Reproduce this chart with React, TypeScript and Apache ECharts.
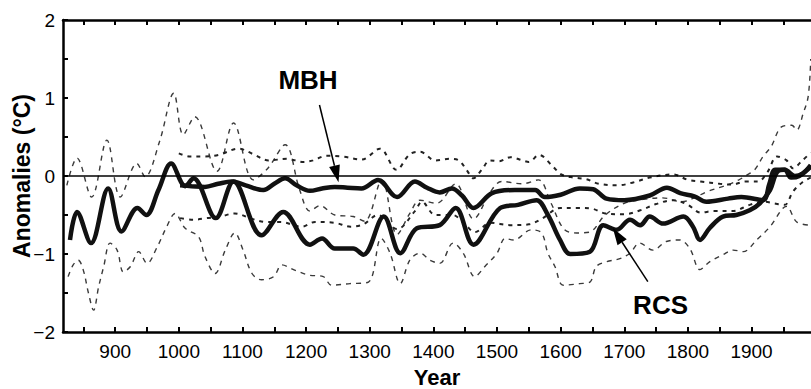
import React, { useEffect, useRef } from 'react';
import * as echarts from 'echarts';

// ---- data (year, anomaly °C) ----
const RCS: [number, number][] = [
  [829, -0.82], [840, -0.46], [862, -0.86], [889, -0.16], [910, -0.71], [935, -0.41], [949, -0.5],
  [968, -0.18], [988, 0.16], [1010, -0.13], [1023, -0.03], [1058, -0.54], [1086, -0.07], [1130, -0.76],
  [1164, -0.46], [1206, -0.88], [1225, -0.8], [1245, -0.93], [1274, -0.93], [1290, -1.01], [1322, -0.52],
  [1348, -0.99], [1374, -0.67], [1410, -0.63], [1435, -0.41], [1463, -0.88], [1505, -0.41], [1533, -0.37],
  [1562, -0.31], [1580, -0.5], [1599, -0.82], [1615, -1.0], [1646, -0.97], [1667, -0.63], [1688, -0.69],
  [1709, -0.56], [1725, -0.63], [1740, -0.52], [1761, -0.61], [1793, -0.52], [1808, -0.65], [1819, -0.82],
  [1834, -0.67], [1855, -0.52], [1876, -0.5], [1897, -0.44], [1913, -0.35], [1929, -0.18], [1940, 0.05],
  [1952, 0.08], [1968, 0.0], [1980, 0.03], [1993, 0.14],
];

const MBH: [number, number][] = [
  [1002, -0.12], [1020, -0.13], [1041, -0.14], [1062, -0.1], [1083, -0.07], [1105, -0.12], [1133, -0.18],
  [1150, -0.1], [1167, -0.03], [1185, -0.12], [1206, -0.19], [1225, -0.16], [1245, -0.14], [1265, -0.15],
  [1287, -0.16], [1313, -0.05], [1343, -0.27], [1371, -0.07], [1390, -0.15], [1410, -0.21], [1429, -0.16],
  [1445, -0.25], [1463, -0.41], [1492, -0.22], [1528, -0.18], [1560, -0.18], [1575, -0.27], [1600, -0.24],
  [1630, -0.16], [1651, -0.17], [1672, -0.29], [1700, -0.31], [1740, -0.25], [1767, -0.15], [1788, -0.22],
  [1810, -0.26], [1829, -0.33], [1863, -0.29], [1884, -0.27], [1918, -0.31], [1928, -0.1], [1937, 0.08],
  [1952, 0.08], [1962, -0.02], [1975, 0.0], [1993, 0.12],
];

const RCS_UPPER: [number, number][] = [
  [824, -0.12], [840, 0.23], [863, -0.27], [887, 0.46], [908, -0.27], [934, 0.16], [947, -0.01],
  [970, 0.45], [992, 1.06], [1007, 0.53], [1025, 0.76], [1060, 0.06], [1086, 0.68], [1117, -0.05],
  [1140, 0.1], [1167, 0.4], [1190, -0.18], [1206, -0.45], [1222, -0.38], [1245, -0.5], [1274, -0.52],
  [1292, -0.58], [1319, -0.05], [1343, -0.75], [1363, -0.48], [1379, -0.31], [1405, -0.35], [1435, -0.1],
  [1463, -0.55], [1490, -0.2], [1507, -0.07], [1540, -0.1], [1565, -0.05], [1585, -0.35], [1605, -0.68],
  [1625, -0.73], [1645, -0.72], [1670, -0.5], [1700, -0.35], [1730, -0.3], [1760, -0.28], [1790, -0.33],
  [1810, -0.28], [1830, -0.2], [1860, -0.12], [1880, -0.05], [1892, 0.01], [1905, 0.08], [1918, 0.25],
  [1931, 0.38], [1947, 0.63], [1963, 0.65], [1971, 0.59], [1981, 0.8], [1989, 1.02], [1993, 1.5],
];

const RCS_LOWER: [number, number][] = [
  [826, -1.29], [834, -1.14], [842, -1.08], [850, -1.21], [858, -1.5], [866, -1.72], [874, -1.42],
  [882, -1.16], [892, -0.86], [903, -0.95], [913, -1.23], [924, -1.16], [937, -0.97], [950, -1.12],
  [966, -0.91], [981, -0.65], [994, -0.48], [1010, -0.67], [1031, -0.78], [1041, -1.03], [1057, -1.25],
  [1073, -0.95], [1088, -0.73], [1101, -0.95], [1115, -1.25], [1130, -1.33], [1149, -1.29], [1162, -1.14],
  [1183, -1.21], [1204, -1.27], [1227, -1.29], [1240, -1.4], [1269, -1.38], [1298, -1.36], [1318, -0.8],
  [1332, -0.99], [1348, -1.38], [1363, -1.08], [1379, -0.99], [1395, -1.08], [1410, -1.12], [1431, -0.86],
  [1447, -0.99], [1465, -1.29], [1481, -1.16], [1500, -0.99], [1513, -0.8], [1526, -0.82], [1554, -0.69],
  [1570, -0.73], [1580, -0.99], [1591, -1.16], [1604, -1.4], [1630, -1.38], [1646, -1.36], [1656, -1.16],
  [1672, -1.1], [1693, -1.06], [1709, -0.99], [1724, -0.86], [1745, -0.95], [1766, -0.84], [1787, -0.82],
  [1803, -0.93], [1819, -1.2], [1834, -1.1], [1855, -1.01], [1871, -0.95], [1887, -0.97], [1908, -0.82],
  [1929, -0.65], [1955, -0.39], [1971, -0.59], [1993, -0.63],
];

const MBH_UPPER: [number, number][] = [
  [1000, 0.29], [1018, 0.25], [1040, 0.25], [1062, 0.27], [1094, 0.35], [1117, 0.28], [1141, 0.2],
  [1170, 0.22], [1196, 0.18], [1211, 0.2], [1232, 0.26], [1258, 0.25], [1287, 0.21], [1316, 0.35],
  [1342, 0.08], [1363, 0.28], [1379, 0.31], [1403, 0.2], [1426, 0.22], [1440, 0.2], [1452, 0.08],
  [1463, -0.03], [1476, 0.08], [1489, 0.2], [1503, 0.19], [1521, 0.24], [1540, 0.2], [1550, 0.18],
  [1566, 0.27], [1588, 0.12], [1601, 0.02], [1620, -0.02], [1640, -0.04], [1660, -0.1], [1690, -0.12],
  [1715, -0.08], [1740, -0.02], [1777, 0.02], [1800, -0.05], [1820, -0.07], [1850, -0.1], [1870, -0.11],
  [1890, -0.07], [1910, -0.07], [1925, 0.05], [1940, 0.25], [1955, 0.2], [1965, 0.1], [1980, 0.2],
  [1993, 0.3],
];

const MBH_LOWER: [number, number][] = [
  [1002, -0.54], [1023, -0.56], [1044, -0.54], [1065, -0.52], [1088, -0.48], [1115, -0.55], [1138, -0.59],
  [1160, -0.59], [1193, -0.65], [1214, -0.59], [1245, -0.6], [1270, -0.65], [1290, -0.62], [1313, -0.5],
  [1343, -0.68], [1371, -0.45], [1382, -0.33], [1403, -0.5], [1430, -0.5], [1450, -0.62], [1465, -0.72],
  [1490, -0.6], [1520, -0.63], [1550, -0.62], [1570, -0.55], [1600, -0.41], [1630, -0.41], [1650, -0.42],
  [1670, -0.48], [1700, -0.49], [1725, -0.44], [1750, -0.36], [1777, -0.31], [1800, -0.37], [1820, -0.47],
  [1840, -0.45], [1870, -0.45], [1897, -0.37], [1920, -0.33], [1935, -0.35], [1952, -0.37], [1965, -0.2],
  [1980, -0.08], [1993, -0.02],
];

const X_TICKS = [850, 900, 950, 1000, 1050, 1100, 1150, 1200, 1250, 1300, 1350, 1400, 1450, 1500, 1550,
  1600, 1650, 1700, 1750, 1800, 1850, 1900, 1950];
const X_LABELS = [900, 1000, 1100, 1200, 1300, 1400, 1500, 1600, 1700, 1800, 1900];

// annotations: label position and arrow (start -> tip) in data coordinates
const MBH_LABEL = { text: 'MBH', at: [1203, 1.23] };
const MBH_ARROW = { from: [1221, 0.91], to: [1251, -0.08] };
const RCS_LABEL = { text: 'RCS', at: [1757, -1.66] };
const RCS_ARROW = { from: [1737, -1.355], to: [1682, -0.667] };

const FONT = '"Liberation Sans", Arial, Helvetica, sans-serif';

export default function App() {
  const ref = useRef<HTMLDivElement>(null);
  useEffect(() => {
    if (!ref.current) return;
    const chart = echarts.init(ref.current, undefined, { renderer: 'svg' });
    const axisLine = { show: true, onZero: false, lineStyle: { color: '#000', width: 2.5 } };
    const tick = { show: true, inside: true, length: 5, lineStyle: { color: '#000', width: 2 } };
    const thin = (data: [number, number][], dash: number[], width: number, color: string) => ({
      type: 'line', data, showSymbol: false, smooth: 0.35, z: 2,
      lineStyle: { color, width, type: dash },
    });
    chart.setOption({
      animation: false,
      backgroundColor: '#fff',
      textStyle: { fontFamily: FONT },
      grid: { left: 63, right: 0, top: 20, bottom: 57, containLabel: false, outerBoundsMode: 'none' },
      xAxis: [
        {
          type: 'value', min: 818, max: 1993.4, position: 'bottom',
          axisLine, axisTick: { ...tick, customValues: X_TICKS },
          axisLabel: { customValues: X_LABELS, fontSize: 19, color: '#000', margin: 10, fontFamily: FONT, formatter: (v: number) => String(v) },
          splitLine: { show: false },
          name: 'Year', nameLocation: 'middle', nameGap: 34, nameMoveOverlap: false,
          nameTextStyle: { fontSize: 22, fontWeight: 'bold', color: '#000', fontFamily: FONT },
        },
        {
          type: 'value', min: 818, max: 1993.4, position: 'top',
          axisLine, axisTick: { ...tick, customValues: X_TICKS },
          axisLabel: { show: false }, splitLine: { show: false },
        },
      ],
      yAxis: {
        type: 'value', min: -2, max: 2, interval: 0.5,
        axisLine, axisTick: tick,
        axisLabel: {
          fontSize: 19, color: '#000', margin: 8, fontFamily: FONT,
          formatter: (v: number) => (Number.isInteger(v) ? (v < 0 ? '\u2212' + Math.abs(v) : String(v)) : ''),
        },
        splitLine: { show: false },
        name: 'Anomalies (°C)', nameLocation: 'middle', nameGap: 30, nameMoveOverlap: false,
        nameTextStyle: { fontSize: 23, fontWeight: 'bold', color: '#000', fontFamily: FONT },
      },
      series: [
        thin(RCS_UPPER, [5, 5], 1.4, '#3a3a3a'),
        thin(RCS_LOWER, [5, 5], 1.4, '#3a3a3a'),
        thin(MBH_UPPER, [4, 5], 2, '#222'),
        thin(MBH_LOWER, [4, 5], 2, '#222'),
        {
          type: 'line', data: RCS, showSymbol: false, smooth: 0.35, z: 4,
          lineStyle: { color: '#111', width: 4.5 },
        },
        {
          type: 'line', data: MBH, showSymbol: false, smooth: 0.35, z: 4,
          lineStyle: { color: '#111', width: 4.5 },
          markLine: {
            silent: true, symbol: ['none', 'none'], label: { show: false },
            lineStyle: { color: '#000', width: 1.5, type: 'solid' },
            data: [{ yAxis: 0 }],
          },
        },
      ],
    });

    const px = (p: number[]) => chart.convertToPixel({ xAxisIndex: 0, yAxisIndex: 0 }, p) as number[];
    const arrow = (a: { from: number[]; to: number[] }) => {
      const s = px(a.from);
      const t = px(a.to);
      const dx = t[0] - s[0];
      const dy = t[1] - s[1];
      const len = Math.hypot(dx, dy);
      const ux = dx / len, uy = dy / len;
      const headL = 17, headW = 5.5;
      const bx = t[0] - ux * headL, by = t[1] - uy * headL;
      return [
        { type: 'line', shape: { x1: s[0], y1: s[1], x2: bx, y2: by }, style: { stroke: '#000', lineWidth: 1.5 }, z: 10 },
        {
          type: 'polygon', z: 10,
          shape: { points: [[t[0], t[1]], [bx - uy * headW, by + ux * headW], [bx + uy * headW, by - ux * headW]] },
          style: { fill: '#000' },
        },
      ];
    };
    const label = (l: { text: string; at: number[] }) => {
      const p = px(l.at);
      return {
        type: 'text', x: p[0], y: p[1], z: 10,
        style: { text: l.text, fontSize: 26, fontWeight: 'bold', fill: '#000', align: 'center', verticalAlign: 'middle', fontFamily: FONT },
      };
    };
    chart.setOption({
      graphic: [label(MBH_LABEL), ...arrow(MBH_ARROW), label(RCS_LABEL), ...arrow(RCS_ARROW)],
    });
    return () => chart.dispose();
  }, []);
  return <div ref={ref} style={{ position: 'fixed', left: 0, top: 0, width: 811, height: 389, background: '#fff' }} />;
}
